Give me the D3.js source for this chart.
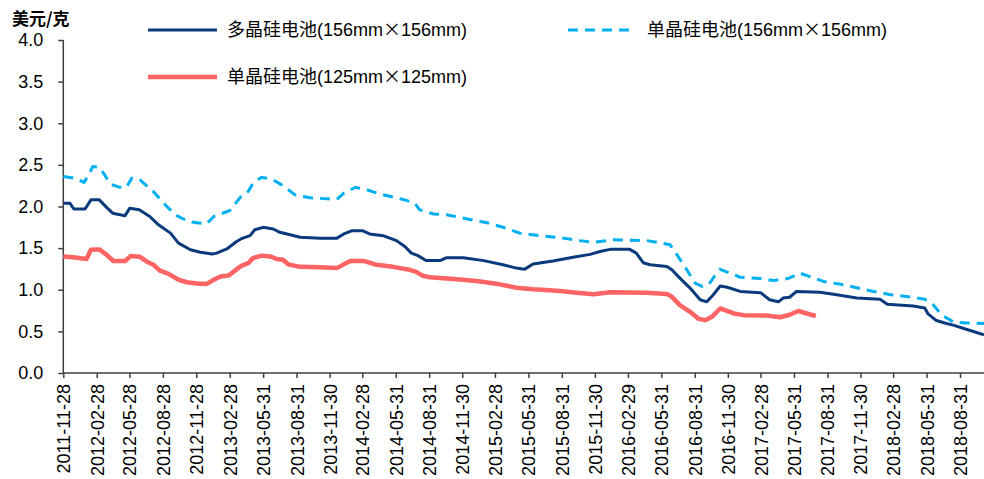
<!DOCTYPE html>
<html>
<head>
<meta charset="utf-8">
<script src="https://cdn.jsdelivr.net/npm/d3@7"></script>
<style>
  html, body { margin: 0; padding: 0; background: #fff; }
  svg { display: block; }
</style>
</head>
<body>
<svg id="chart" width="984" height="479"></svg>
<script>
// Price series (USD per gram), sampled at the turning points of each curve
const multi156 = [
  ["2011-11-28", 2.04], ["2011-12-16", 2.04], ["2011-12-27", 1.97], ["2012-01-27", 1.97],
  ["2012-02-12", 2.08], ["2012-03-06", 2.08], ["2012-03-26", 1.99], ["2012-04-12", 1.92],
  ["2012-05-16", 1.89], ["2012-05-29", 1.98], ["2012-06-24", 1.96], ["2012-07-23", 1.88],
  ["2012-08-16", 1.78], ["2012-09-18", 1.68], ["2012-10-10", 1.56], ["2012-11-12", 1.48],
  ["2012-12-09", 1.45], ["2013-01-11", 1.43], ["2013-01-23", 1.44], ["2013-02-20", 1.49],
  ["2013-03-19", 1.58], ["2013-03-31", 1.61], ["2013-04-11", 1.63], ["2013-04-25", 1.65],
  ["2013-05-08", 1.72], ["2013-05-31", 1.75], ["2013-06-28", 1.73], ["2013-07-16", 1.69],
  ["2013-09-10", 1.63], ["2013-11-04", 1.62], ["2013-12-20", 1.62], ["2014-01-08", 1.67],
  ["2014-01-31", 1.71], ["2014-02-28", 1.71], ["2014-03-20", 1.67], ["2014-04-26", 1.65],
  ["2014-06-02", 1.59], ["2014-06-25", 1.52], ["2014-07-13", 1.44], ["2014-07-31", 1.41],
  ["2014-08-19", 1.36], ["2014-08-24", 1.35], ["2014-09-30", 1.35], ["2014-10-18", 1.385],
  ["2014-12-03", 1.385], ["2015-01-28", 1.35], ["2015-03-22", 1.30], ["2015-04-28", 1.26],
  ["2015-05-20", 1.245], ["2015-06-13", 1.31], ["2015-08-07", 1.345], ["2015-10-01", 1.39],
  ["2015-11-17", 1.425], ["2015-12-14", 1.46], ["2016-01-11", 1.485], ["2016-03-05", 1.485],
  ["2016-03-23", 1.44], ["2016-04-11", 1.325], ["2016-04-30", 1.30], ["2016-06-15", 1.28],
  ["2016-06-29", 1.24], ["2016-07-21", 1.14], ["2016-08-18", 1.02], ["2016-09-15", 0.88],
  ["2016-10-03", 0.855], ["2016-10-21", 0.94], ["2016-11-09", 1.045], ["2016-11-28", 1.03],
  ["2017-01-03", 0.98], ["2017-02-28", 0.965], ["2017-03-25", 0.88], ["2017-04-18", 0.855],
  ["2017-05-01", 0.90], ["2017-05-19", 0.91], ["2017-06-07", 0.98], ["2017-08-10", 0.97],
  ["2017-09-17", 0.945], ["2017-11-20", 0.90], ["2018-01-23", 0.885], ["2018-02-12", 0.825],
  ["2018-04-24", 0.805], ["2018-05-26", 0.78], ["2018-06-04", 0.71], ["2018-06-27", 0.63],
  ["2018-07-25", 0.595], ["2018-08-12", 0.575], ["2018-09-28", 0.51], ["2018-11-05", 0.46]
];

const mono156 = [
  ["2011-11-28", 2.36], ["2011-12-29", 2.34], ["2012-01-24", 2.29], ["2012-02-06", 2.38],
  ["2012-02-17", 2.48], ["2012-03-06", 2.47], ["2012-03-21", 2.38], ["2012-04-05", 2.27],
  ["2012-05-02", 2.23], ["2012-05-20", 2.23], ["2012-06-03", 2.34], ["2012-06-26", 2.32],
  ["2012-08-02", 2.18], ["2012-08-30", 2.04], ["2012-10-01", 1.90], ["2012-11-07", 1.82],
  ["2012-11-30", 1.805], ["2012-12-26", 1.79], ["2013-01-15", 1.88], ["2013-02-12", 1.925],
  ["2013-02-28", 1.95], ["2013-03-31", 2.12], ["2013-04-11", 2.16], ["2013-04-20", 2.18],
  ["2013-05-03", 2.28], ["2013-05-26", 2.35], ["2013-06-23", 2.33], ["2013-07-21", 2.26],
  ["2013-08-27", 2.14], ["2013-10-07", 2.105], ["2013-12-20", 2.085], ["2014-01-08", 2.16],
  ["2014-02-09", 2.23], ["2014-03-06", 2.21], ["2014-04-17", 2.15], ["2014-06-20", 2.085],
  ["2014-07-22", 2.04], ["2014-08-05", 1.96], ["2014-09-12", 1.91], ["2014-10-18", 1.90],
  ["2014-12-21", 1.845], ["2015-02-06", 1.805], ["2015-03-31", 1.74], ["2015-05-07", 1.68],
  ["2015-07-01", 1.65], ["2015-09-04", 1.62], ["2015-10-20", 1.59], ["2015-11-26", 1.57],
  ["2016-01-20", 1.60], ["2016-04-21", 1.59], ["2016-05-27", 1.565], ["2016-06-24", 1.54],
  ["2016-07-16", 1.40], ["2016-08-09", 1.24], ["2016-09-01", 1.08], ["2016-09-20", 1.04],
  ["2016-10-08", 1.06], ["2016-10-27", 1.18], ["2016-11-09", 1.245], ["2016-12-06", 1.20],
  ["2017-01-03", 1.15], ["2017-02-28", 1.135], ["2017-04-04", 1.11], ["2017-05-15", 1.135],
  ["2017-06-16", 1.20], ["2017-08-20", 1.10], ["2017-10-14", 1.06], ["2018-01-05", 0.98],
  ["2018-02-21", 0.94], ["2018-04-24", 0.91], ["2018-05-26", 0.885], ["2018-06-18", 0.82],
  ["2018-07-11", 0.70], ["2018-08-12", 0.615], ["2018-09-19", 0.60], ["2018-11-05", 0.595]
];

const mono125 = [
  ["2011-11-28", 1.40], ["2011-12-25", 1.39], ["2012-01-31", 1.37], ["2012-02-12", 1.48],
  ["2012-03-06", 1.485], ["2012-03-26", 1.42], ["2012-04-14", 1.345], ["2012-05-16", 1.345],
  ["2012-05-31", 1.405], ["2012-06-26", 1.395], ["2012-07-14", 1.34], ["2012-08-02", 1.30],
  ["2012-08-20", 1.23], ["2012-09-13", 1.19], ["2012-10-10", 1.12], ["2012-11-02", 1.09],
  ["2012-11-30", 1.075], ["2012-12-27", 1.07], ["2013-01-15", 1.12], ["2013-02-03", 1.16],
  ["2013-02-25", 1.17], ["2013-03-19", 1.245], ["2013-03-31", 1.285], ["2013-04-11", 1.305],
  ["2013-04-20", 1.32], ["2013-05-03", 1.38], ["2013-05-26", 1.41], ["2013-06-19", 1.40],
  ["2013-07-07", 1.37], ["2013-07-25", 1.36], ["2013-08-08", 1.305], ["2013-09-10", 1.275],
  ["2013-11-04", 1.27], ["2013-12-20", 1.26], ["2014-01-08", 1.305], ["2014-01-26", 1.345],
  ["2014-03-06", 1.345], ["2014-04-08", 1.30], ["2014-05-23", 1.275], ["2014-07-08", 1.24],
  ["2014-07-26", 1.215], ["2014-08-15", 1.165], ["2014-09-02", 1.15], ["2014-10-18", 1.135],
  ["2014-12-03", 1.12], ["2015-01-19", 1.10], ["2015-03-13", 1.065], ["2015-04-28", 1.025],
  ["2015-06-13", 1.005], ["2015-07-29", 0.995], ["2015-08-26", 0.985], ["2015-10-11", 0.965],
  ["2015-11-26", 0.945], ["2016-01-11", 0.97], ["2016-04-21", 0.965], ["2016-06-15", 0.95],
  ["2016-06-29", 0.915], ["2016-07-21", 0.815], ["2016-08-18", 0.735], ["2016-09-11", 0.65],
  ["2016-09-29", 0.635], ["2016-10-17", 0.675], ["2016-11-09", 0.775], ["2016-12-16", 0.715],
  ["2017-01-13", 0.695], ["2017-03-16", 0.69], ["2017-04-23", 0.67], ["2017-05-19", 0.70],
  ["2017-06-12", 0.745], ["2017-07-05", 0.715], ["2017-07-30", 0.685]
];

// Axis tick labels
const xTickLabels = [
  "2011-11-28", "2012-02-28", "2012-05-28", "2012-08-28", "2012-11-28", "2013-02-28",
  "2013-05-31", "2013-08-31", "2013-11-30", "2014-02-28", "2014-05-31", "2014-08-31",
  "2014-11-30", "2015-02-28", "2015-05-31", "2015-08-31", "2015-11-30", "2016-02-29",
  "2016-05-31", "2016-08-31", "2016-11-30", "2017-02-28", "2017-05-31", "2017-08-31",
  "2017-11-30", "2018-02-28", "2018-05-31", "2018-08-31"
];
const yTicks = [0, 0.5, 1.0, 1.5, 2.0, 2.5, 3.0, 3.5, 4.0];

const seriesNames = ["多晶硅电池(156mm×156mm)", "单晶硅电池(156mm×156mm)", "单晶硅电池(125mm×125mm)"];
const dateRange = ["2011-11-28", "2018-11-05"];
const yUnit = "美元/克";

(function draw() {
  const parse = d3.timeParse("%Y-%m-%d");
  const svg = d3.select("#chart");
  const latin = "'Liberation Sans', Arial, 'Noto Sans CJK SC', sans-serif";
  const cjk = "'Noto Sans CJK SC', sans-serif";
  const axisColor = "#404040";

  const plotLeft = 63.3, plotRight = 984, plotTop = 40, plotBottom = 373;

  const x = d3.scaleTime().domain(dateRange.map(parse)).range([plotLeft, plotRight]);
  const y = d3.scaleLinear().domain([0, 4]).range([plotBottom, plotTop]);

  // Y axis
  const yAxis = svg.append("g")
    .attr("transform", `translate(${plotLeft},0)`)
    .call(d3.axisLeft(y).tickValues(yTicks).tickFormat(d3.format(".1f")).tickSize(5).tickPadding(15));
  yAxis.select(".domain").attr("stroke", axisColor).attr("stroke-width", 1.5).attr("d", `M0,${plotTop}V${plotBottom}`);
  yAxis.selectAll(".tick line").attr("stroke", axisColor).attr("stroke-width", 1.5);
  yAxis.selectAll(".tick text")
    .attr("fill", "#000").style("font-family", latin).style("font-size", "18px");

  // X axis
  const xAxis = svg.append("g")
    .attr("transform", `translate(0,${plotBottom})`)
    .call(d3.axisBottom(x).tickValues(xTickLabels.map(parse)).tickFormat(d3.timeFormat("%Y-%m-%d")).tickSize(5));
  xAxis.select(".domain").attr("stroke", axisColor).attr("stroke-width", 1.5).attr("d", `M${plotLeft},0H${plotRight}`);
  xAxis.selectAll(".tick line").attr("stroke", axisColor).attr("stroke-width", 1.5);
  xAxis.selectAll(".tick text")
    .attr("fill", "#000")
    .style("font-family", latin).style("font-size", "18px")
    .attr("text-anchor", "end")
    .attr("transform", "rotate(-90)")
    .attr("x", -11).attr("y", 0).attr("dy", "0.36em");

  // Unit label
  svg.append("text")
    .attr("x", 12).attr("y", 25)
    .style("font-family", cjk)
    .style("font-size", "17px").style("font-weight", "bold")
    .text(yUnit);

  // Lines
  const line = d3.line().x(d => x(parse(d[0]))).y(d => y(d[1]));
  const styles = [
    { data: multi156, color: "#0A3A7C", width: 3, dash: null },
    { data: mono156, color: "#00B0F0", width: 3, dash: "10,7" },
    { data: mono125, color: "#FF6464", width: 4.5, dash: null }
  ];
  styles.forEach(s => {
    svg.append("path")
      .datum(s.data)
      .attr("fill", "none")
      .attr("stroke", s.color)
      .attr("stroke-width", s.width)
      .attr("stroke-linejoin", "round")
      .attr("stroke-dasharray", s.dash)
      .attr("d", line);
  });

  // Legend
  const legendPos = [
    { x: 148, y: 30 },
    { x: 568, y: 30 },
    { x: 148, y: 77 }
  ];
  styles.forEach((s, i) => {
    const p = legendPos[i];
    const g = svg.append("g").attr("transform", `translate(${p.x},${p.y})`);
    g.append("line")
      .attr("x1", 0).attr("x2", i === 1 ? 67 : 69).attr("y1", 0).attr("y2", 0)
      .attr("stroke", s.color).attr("stroke-width", s.width)
      .attr("stroke-dasharray", s.dash);
    const name = seriesNames[i];
    const cut = name.indexOf("(");
    const mid = name.indexOf("×");
    const t = g.append("text")
      .attr("x", 79).attr("y", 0).attr("dy", "0.36em")
      .style("font-size", "18px").attr("fill", "#000");
    t.append("tspan").style("font-family", cjk).text(name.slice(0, cut));
    t.append("tspan").style("font-family", latin).text(name.slice(cut, mid));
    t.append("tspan").style("font-family", cjk).text(name.slice(mid, mid + 1));
    t.append("tspan").style("font-family", latin).text(name.slice(mid + 1));
  });
})();
</script>
</body>
</html>
